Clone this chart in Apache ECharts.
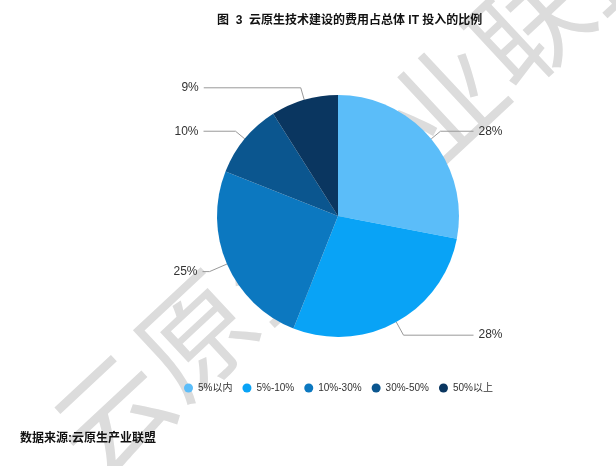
<!DOCTYPE html>
<html>
<head>
<meta charset="utf-8">
<script src="https://cdn.jsdelivr.net/npm/echarts@6/dist/echarts.min.js"></script>
<style>
html,body{margin:0;padding:0;background:#fff;}
#main{width:616px;height:466px;}
</style>
</head>
<body>
<div id="main"></div>
<script>
// ---- data ----
var categories = ['5%以内', '5%-10%', '10%-30%', '30%-50%', '50%以上'];
var values = [28, 28, 25, 10, 9];
var titleText = '图  3  云原生技术建设的费用占总体 IT 投入的比例';
var sourceText = '数据来源:云原生产业联盟';
var watermarkText = '云原生产业联盟';

// ---- styles / layout ----
var colors = ['#5bbdf9', '#09a3f6', '#0c78c0', '#0b568f', '#0a3660'];
var lineLen1 = [12, 15, 19, 12, 12.5];
var lineLen2 = [33, 70, 7, 32, 97];
var FONT = "'Liberation Sans', 'Noto Sans CJK SC', sans-serif";

var pieData = categories.map(function (name, i) {
  return {
    name: name,
    value: values[i],
    itemStyle: { color: colors[i] },
    labelLine: { length: lineLen1[i], length2: lineLen2[i] }
  };
});

var chart = echarts.init(document.getElementById('main'), null, { renderer: 'canvas' });
chart.setOption({
  animation: false,
  backgroundColor: '#ffffff',
  title: {
    text: titleText,
    left: 212,
    top: 10,
    textStyle: { fontSize: 12, fontWeight: 'bold', color: '#111', fontFamily: FONT }
  },
  graphic: [
    {
      type: 'text',
      x: 362, y: 180,
      rotation: 43 * Math.PI / 180,
      z: -10,
      style: {
        text: watermarkText,
        fontSize: 114,
        fontFamily: "'Noto Sans CJK SC', sans-serif",
        fontWeight: 'normal',
        fill: '#dcdcdc',
        align: 'center',
        verticalAlign: 'middle'
      }
    },
    {
      type: 'text',
      left: 20,
      top: 433,
      style: {
        text: sourceText,
        fontSize: 12,
        fontWeight: 'bold',
        fontFamily: FONT,
        fill: '#111'
      }
    }
  ],
  legend: {
    data: categories,
    left: 179,
    top: 378,
    icon: 'circle',
    itemWidth: 9,
    itemHeight: 9,
    itemGap: 10,
    textStyle: { fontSize: 10, color: '#333', fontFamily: FONT }
  },
  series: [{
    type: 'pie',
    center: [338, 216],
    radius: 121,
    startAngle: 90,
    clockwise: true,
    avoidLabelOverlap: false,
    emphasis: { disabled: true },
    label: {
      show: true,
      formatter: '{c}%',
      fontSize: 12,
      color: '#333',
      fontFamily: FONT,
      distanceToLabelLine: 5
    },
    labelLine: {
      show: true,
      lineStyle: { color: '#999', width: 1 }
    },
    data: pieData
  }]
});
</script>
</body>
</html>
